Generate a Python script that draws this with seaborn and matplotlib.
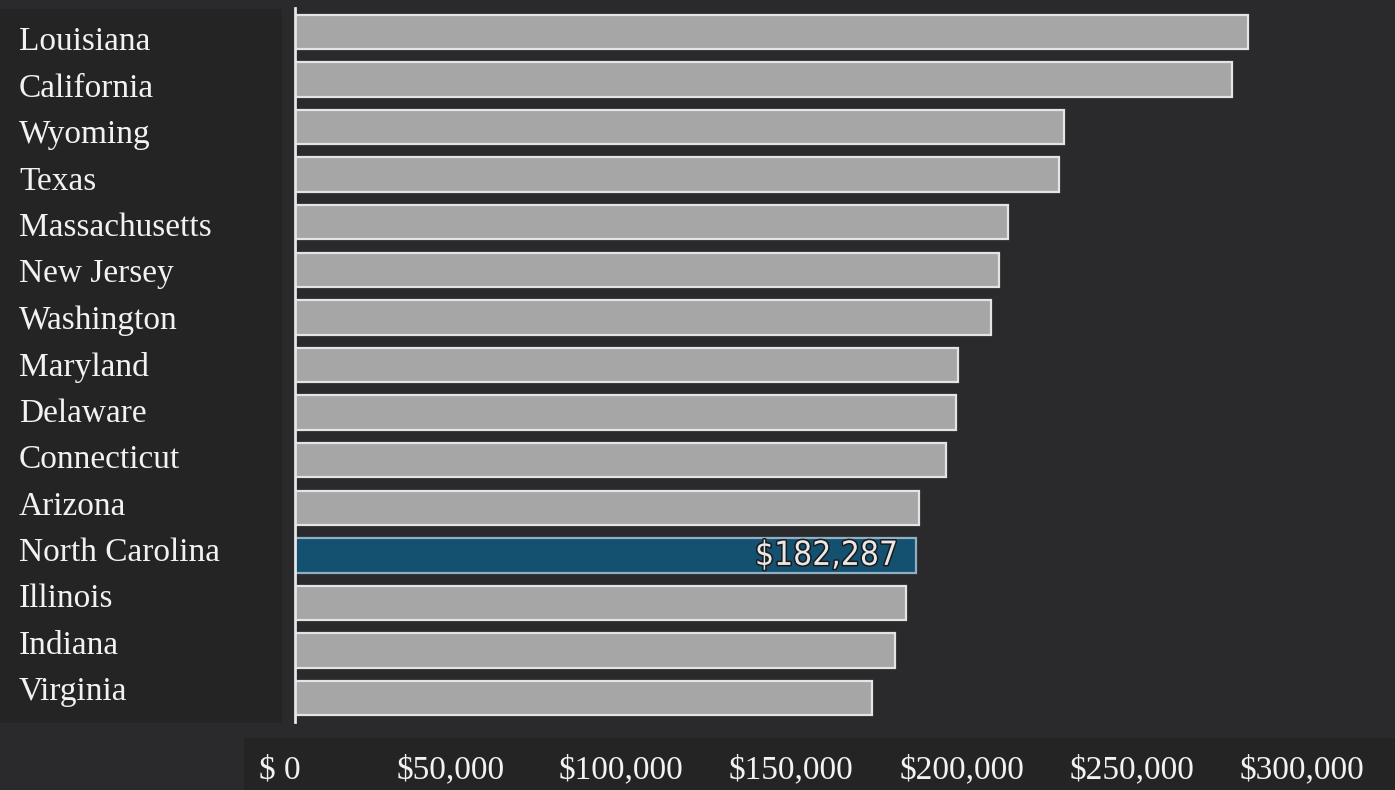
import pandas as pd
import seaborn as sns
import matplotlib.pyplot as plt
import matplotlib.patheffects as pe
from matplotlib.patches import Rectangle
from matplotlib.transforms import ScaledTranslation

states = ['Louisiana', 'California', 'Wyoming', 'Texas', 'Massachusetts', 'New Jersey',
          'Washington', 'Maryland', 'Delaware', 'Connecticut', 'Arizona', 'North Carolina',
          'Illinois', 'Indiana', 'Virginia']
salary = [279700, 275000, 225700, 224200, 209300, 206600, 204300, 194600, 194000,
          191100, 183200, 182287, 179300, 176100, 169400]
highlight = 'North Carolina'
xticks = [0, 50000, 100000, 150000, 200000, 250000, 300000]
xticklabels = ['$ 0', '$50,000', '$100,000', '$150,000', '$200,000', '$250,000', '$300,000']

bg = '#2a2a2c'
panel = '#242424'
grey = '#a6a6a6'
blue = '#14506f'

df = pd.DataFrame({'state': states, 'salary': salary})
pal = {s: (blue if s == highlight else grey) for s in states}

fig = plt.figure(figsize=(13.95, 7.9), dpi=100, facecolor=bg)

# dark strip behind the x tick labels
fig.patches.append(Rectangle((244 / 1395, 0), 1, 52 / 790, transform=fig.transFigure,
                             facecolor=panel, edgecolor='none', zorder=-5))

# label panel on the left
axl = fig.add_axes([0, 67 / 790, 282 / 1395, 714 / 790], facecolor=panel)
axl.set_xlim(0, 1)
axl.set_ylim(14.667, -0.711)
axl.axis('off')
axl.add_patch(Rectangle((0, 0), 1, 1, transform=axl.transAxes, facecolor=panel, edgecolor='none'))
for i, s in enumerate(states):
    axl.text(19 / 282, i, s, ha='left', va='center', fontsize=24, color='#f2f2f2',
             family=['Liberation Serif', 'DejaVu Serif'])

ax = fig.add_axes([295 / 1395, 68 / 790, 1100 / 1395, 714 / 790])
ax.set_facecolor('none')
sns.barplot(data=df, x='salary', y='state', hue='state', palette=pal, legend=False,
            orient='h', width=0.72, edgecolor='#e4e4e4', linewidth=1.6, saturation=1, ax=ax)
for p, s in zip(ax.patches, states):
    if s == highlight:
        p.set_edgecolor('#8fb0c4')

ax.set_xlim(0, 322800)
ax.set_ylim(14.5, -0.5)
ax.set_xlabel('')
ax.set_ylabel('')
ax.set_yticks([])
ax.set_xticks(xticks)
ax.set_xticklabels(xticklabels, fontsize=24, color='#f2f2f2', family=['Liberation Serif', 'DejaVu Serif'])
ax.tick_params(axis='x', length=0, pad=23.5)
off = ScaledTranslation(-15 / 100, 0, fig.dpi_scale_trans)
for lab in ax.get_xticklabels():
    lab.set_transform(lab.get_transform() + off)
for sp in ['top', 'right', 'bottom']:
    ax.spines[sp].set_visible(False)
ax.spines['left'].set_color('#e6e6e6')
ax.spines['left'].set_linewidth(2)

i = states.index(highlight)
ax.annotate('$182,287', xy=(salary[i], i), xytext=(-13, 0), textcoords='offset points',
            ha='right', va='center', fontsize=24, color='#e8e8e8',
            family='DejaVu Sans', fontstretch='condensed', fontweight='light',
            path_effects=[pe.withStroke(linewidth=2.2, foreground='#1a1a1a')])

fig.savefig('out.png', dpi=100, facecolor=bg)
